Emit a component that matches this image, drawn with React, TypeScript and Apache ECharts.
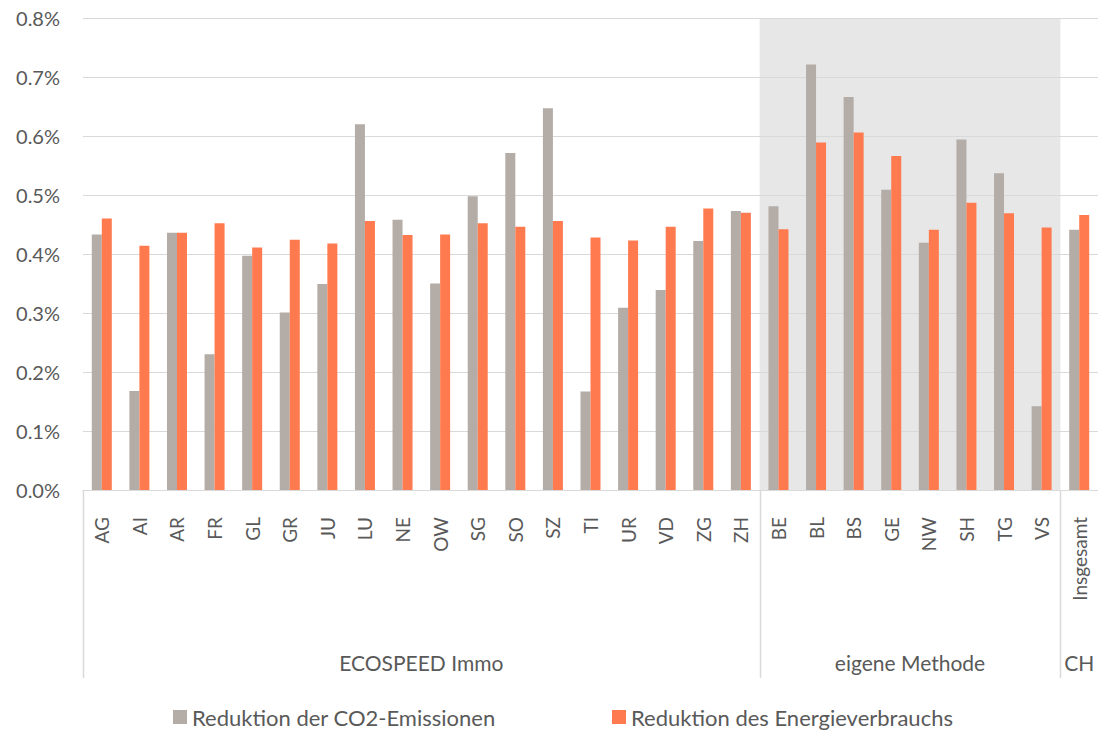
import React, { useEffect, useRef } from "react";
import * as echarts from "echarts";

const categories = [
  "AG", "AI", "AR", "FR", "GL", "GR", "JU", "LU", "NE", "OW", "SG", "SO", "SZ", "TI", "UR", "VD", "ZG", "ZH",
  "BE", "BL", "BS", "GE", "NW", "SH", "TG", "VS", "Insgesamt",
];
// values in percent
const co2Reduction = [
  0.433, 0.168, 0.436, 0.230, 0.397, 0.301, 0.349, 0.620, 0.458, 0.350, 0.498, 0.571, 0.647, 0.167, 0.309, 0.339, 0.422, 0.473,
  0.481, 0.721, 0.666, 0.509, 0.419, 0.594, 0.537, 0.142, 0.441,
];
const energyReduction = [
  0.460, 0.414, 0.436, 0.452, 0.411, 0.424, 0.418, 0.456, 0.432, 0.433, 0.452, 0.446, 0.456, 0.428, 0.423, 0.446, 0.477, 0.470,
  0.442, 0.589, 0.606, 0.566, 0.441, 0.487, 0.469, 0.445, 0.466,
];
const seriesNames = ["Reduktion der CO2-Emissionen", "Reduktion des Energieverbrauchs"];
const groupLabels = ["ECOSPEED Immo", "eigene Methode", "CH"];
const groupFrom = ["AG", "BE", "Insgesamt"];
const groupTo = ["ZH", "VS", "Insgesamt"];
const shadedFrom = "BE";
const shadedTo = "VS";
const yMin = 0;
const yMax = 0.8;
const yStep = 0.1;

const FONT = "Lato, 'Open Sans', sans-serif";
const TEXT = "#595959";
const GRIDC = "#d9d9d9";
const GREY = "#b4aca6";
const ORANGE = "#ff7a4f";

export default function App() {
  const ref = useRef<HTMLDivElement>(null);

  useEffect(() => {
    if (!ref.current) return;
    const chart = echarts.init(ref.current, undefined, { renderer: "svg" });
    chart.setOption({
      animation: false,
      textStyle: { fontFamily: FONT },
      grid: { left: 83, right: 0, top: 18, bottom: 241, containLabel: false },
      legend: [
        {
          data: [seriesNames[0]],
          left: 173,
          top: 706,
          padding: 0,
          itemWidth: 14,
          itemHeight: 14,
          itemGap: 5,
          icon: "rect",
          textStyle: { color: TEXT, fontSize: 22, fontFamily: FONT },
        },
        {
          data: [seriesNames[1]],
          left: 612,
          top: 706,
          padding: 0,
          itemWidth: 14,
          itemHeight: 14,
          itemGap: 5,
          icon: "rect",
          textStyle: { color: TEXT, fontSize: 22, fontFamily: FONT },
        },
      ],
      xAxis: {
        type: "category",
        data: categories,
        boundaryGap: true,
        axisLine: { show: true, lineStyle: { color: GRIDC, width: 1 } },
        axisTick: { show: false },
        axisLabel: {
          rotate: 90,
          margin: 27,
          color: TEXT,
          fontSize: 19,
          fontFamily: FONT,
          interval: 0,
        },
      },
      yAxis: {
        type: "value",
        min: yMin,
        max: yMax,
        interval: yStep,
        axisLine: { show: false },
        axisTick: { show: false },
        splitLine: { lineStyle: { color: GRIDC, width: 1 } },
        axisLabel: {
          margin: 23,
          color: TEXT,
          fontSize: 20,
          fontFamily: FONT,
          formatter: (v: number) => `${v.toFixed(1)}%`,
        },
      },
      series: [
        {
          name: seriesNames[0],
          type: "bar",
          data: co2Reduction,
          barWidth: 10,
          barGap: "0%",
          itemStyle: { color: GREY },
        },
        {
          name: seriesNames[1],
          type: "bar",
          data: energyReduction,
          barWidth: 10,
          barGap: "0%",
          itemStyle: { color: ORANGE },
        },
      ],
    });

    const xPix = (c: string) => chart.convertToPixel({ xAxisIndex: 0 }, c) as number;
    const yPix = (v: number) => chart.convertToPixel({ yAxisIndex: 0 }, v) as number;
    const band = xPix(categories[1]) - xPix(categories[0]);
    const y0 = yPix(yMin);
    const yTop = yPix(yMax);
    const sepBottom = y0 + 188;
    const graphics: any[] = [];
    graphics.push({
      type: "rect",
      z: -10,
      silent: true,
      shape: {
        x: xPix(shadedFrom) - band / 2,
        y: yTop + 1,
        width: xPix(shadedTo) - xPix(shadedFrom) + band,
        height: y0 - yTop - 1,
      },
      style: { fill: "#e7e7e7" },
    });
    const sepXs = [xPix(groupFrom[0]) - band / 2];
    for (let i = 0; i < groupLabels.length; i++) {
      const a = xPix(groupFrom[i]) - band / 2;
      const b = xPix(groupTo[i]) + band / 2;
      if (i > 0) sepXs.push(a);
      graphics.push({
        type: "text",
        silent: true,
        x: (a + b) / 2,
        y: y0 + 172,
        style: {
          text: groupLabels[i],
          fill: TEXT,
          font: `21px ${FONT}`,
          textAlign: "center",
          textVerticalAlign: "middle",
        },
      });
    }
    sepXs.forEach((x) => {
      graphics.push({
        type: "line",
        silent: true,
        shape: { x1: Math.round(x) + 0.5, y1: y0, x2: Math.round(x) + 0.5, y2: sepBottom },
        style: { stroke: GRIDC, lineWidth: 1.5 },
      });
    });
    chart.setOption({ graphic: graphics });

    return () => chart.dispose();
  }, []);

  return (
    <div
      ref={ref}
      style={{ position: "fixed", left: 0, top: 0, width: 1098, height: 731, background: "#fff" }}
    />
  );
}
